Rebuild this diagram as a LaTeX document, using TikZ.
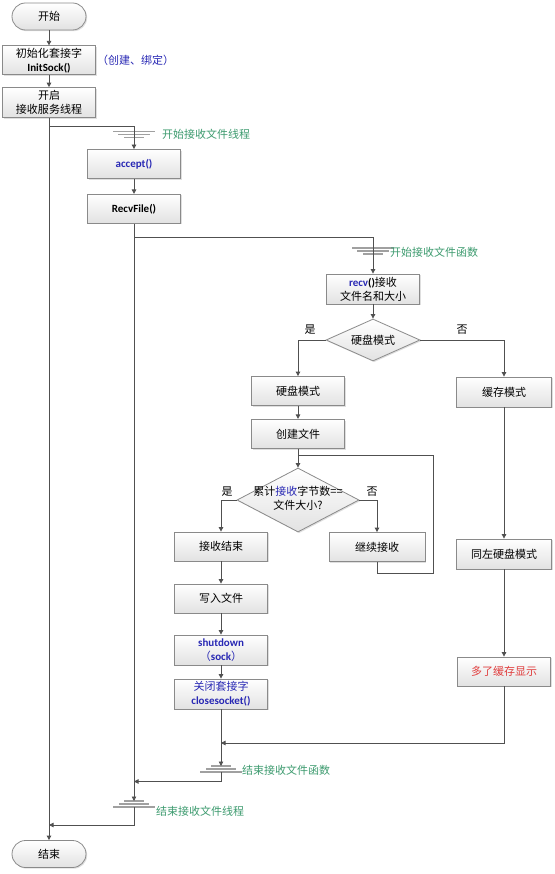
\documentclass[tikz,border=0pt]{standalone}
\usepackage{fontspec}
\setmainfont{Noto Sans CJK SC}
\newfontfamily\enfont{Carlito}
\usetikzlibrary{positioning, arrows.meta, shapes.geometric, shadows, calc}
\definecolor{cBoxF}{HTML}{E2E2E2}
\definecolor{cBoxB}{HTML}{8A8A8A}
\definecolor{cLine}{HTML}{505050}
\definecolor{cGnd}{HTML}{A0A0A0}
\definecolor{cNote}{HTML}{3C9A6E}
\definecolor{cApi}{HTML}{2828B4}
\definecolor{cWarn}{HTML}{E03C3C}
\tikzset{
  shade box/.style ={draw=cBoxB, line width=0.8pt, top color=white, bottom color=cBoxF,
                     drop shadow={shadow xshift=1.2pt, shadow yshift=-1.2pt, opacity=0.25}},
  procbox/.style   ={shade box, align=center, minimum width=93pt, minimum height=29pt,
                     inner sep=1pt},
  termbox/.style   ={procbox, rounded corners=13.5pt, minimum width=74pt, minimum height=27pt},
  decision/.style  ={shade box, diamond, inner sep=0pt},
  flow/.style      ={-{Triangle[length=4.5pt,width=4.5pt]}, line width=0.8pt, draw=cLine},
  link/.style      ={line width=0.8pt, draw=cLine},
  gline/.style     ={line width=1.5pt, draw=cGnd},
  note/.style      ={anchor=west, text=cNote, inner sep=0pt},
  gndin/.pic       ={\draw[gline] (-21,0) -- (21,0);
                     \draw[gline] (-16,3) -- (16,3);
                     \draw[gline] (-10,6) -- (10,6);},
  gndout/.pic      ={\draw[gline] (-10,0) -- (10,0);
                     \draw[gline] (-15,3) -- (15,3);
                     \draw[gline] (-21,6) -- (21,6);},
}
\newcommand{\api}[1]{{\enfont\bfseries #1}}

\begin{document}
\begin{tikzpicture}[x=1pt, y=-1pt, font=\fontsize{11}{14}\selectfont]
  \useasboundingbox (0,0) rectangle (554,874);

  % ============================================================
  % MAIN THREAD (left column)
  % ============================================================
  \node[termbox] (start) at (49,16.5) {开始};
  \node[procbox, below=15pt of start] (init) {初始化套接字\\\api{InitSock()}};
  \node[anchor=west, text=cApi, inner sep=1pt] (initnote) at (init.east) {（创建、绑定）};
  \node[procbox, minimum height=30pt, below=12pt of init] (srv) {开启\\接收服务线程};
  \node[termbox] (end) at (49,854) {结束};

  % ============================================================
  % RECEIVE THREAD
  % ============================================================
  \node[procbox] (accept) at (134,164) {\api{\color{cApi}accept()}};
  \node[procbox, below=15pt of accept] (recvfile) {\api{RecvFile()}};

  % ============================================================
  % RECEIVE FUNCTION
  % ============================================================
  \node[procbox, minimum height=30pt] (recv) at (373,289)
    {\api{\color{cApi}recv}\api{()}接收\\文件名和大小};
  \node[decision, minimum width=94pt, minimum height=42pt] (dmode) at (373,340)
    {\makebox[0pt]{硬盘模式}};
  \node (dmodeyes) at (310,330) {是};
  \node (dmodeno) at (462,330) {否};

  \node[procbox] (hdd) at (298,391) {硬盘模式};
  \node[procbox, below=13pt of hdd] (create) {创建文件};
  \node[procbox, minimum width=95pt, minimum height=30pt] (cache) at (504,392) {缓存模式};

  \node[decision, minimum width=122pt, minimum height=64pt] (dsize) at (298,500)
    {\makebox[0pt]{\begin{tabular}{@{}c@{}}累计{\color{cApi}接收}字节数==\\文件大小?\end{tabular}}};
  \node (dsizeyes) at (227,492) {是};
  \node (dsizeno) at (372,492) {否};

  \node[procbox] (acc) at (221,546.5) {接收结束};
  \node[procbox, minimum width=96pt] (cont) at (377,547) {继续接收};
  \node[procbox] (write) at (221,598.5) {写入文件};
  \node[procbox, minimum height=30pt, text=cApi] (shut) at (221,650) {\api{shutdown}\\（\api{sock}）};
  \node[procbox, minimum height=30pt, text=cApi] (close) at (221,694) {关闭套接字\\\api{closesocket()}};

  \node[procbox, minimum width=95pt, minimum height=30pt] (same) at (504,554) {同左硬盘模式};
  \node[procbox, text=cWarn] (more) at (504,671.5) {多了缓存显示};

  % --- start / end markers ---
  \coordinate (thrin) at (134,131.5);
  \pic at (thrin) {gndin};
  \node[note] (thrinlbl) at (162,134) {开始接收文件线程};
  \coordinate (fnin) at (373,248);
  \pic at (fnin) {gndin};
  \node[note] (fninlbl) at (390,252) {开始接收文件函数};
  \coordinate (fnout) at (221,766);
  \pic at (fnout) {gndout};
  \node[note] (fnoutlbl) at (242,770) {结束接收文件函数};
  \coordinate (throut) at (134,801);
  \pic at (throut) {gndout};
  \node[note] (throutlbl) at (156,811) {结束接收文件线程};

  % --- branch / merge points ---
  \coordinate (thrsplit) at (49,126);
  \coordinate (fnsplit) at (134,237.5);
  \coordinate (loopcorner) at (433,455);
  \coordinate (loopend) at (298,455);
  \coordinate (fnmerge) at (221,743);
  \coordinate (fnoutbot) at (221,772);
  \coordinate (thrmerge) at (134,781.5);
  \coordinate (throutbot) at (134,807);
  \coordinate (mainmerge) at (49,825);

  % --- connectors ---
  \draw[flow] (start) -- (init);
  \draw[flow] (init) -- (srv);
  \draw[flow] (srv) -- (end);
  \draw[flow] (thrsplit) -| (accept);
  \draw[flow] (accept) -- (recvfile);
  \draw[flow] (fnsplit) -| (recv);
  \draw[flow] (recv) -- (dmode);
  \draw[flow] (dmode) -| (hdd);
  \draw[flow] (dmode) -| (cache);
  \draw[flow] (hdd) -- (create);
  \draw[flow] (create) -- (dsize);
  \draw[flow] (dsize) -| (acc);
  \draw[flow] (dsize) -| (cont);
  \draw[link] (cont.south) -- ++(0,11) -| (loopcorner) -- (loopend);
  \draw[flow] (acc) -- (write);
  \draw[flow] (write) -- (shut);
  \draw[flow] (shut) -- (close);
  \draw[flow] (cache) -- (same);
  \draw[flow] (same) -- (more);
  \draw[flow] (more) |- (fnmerge);
  \draw[flow] (close) -- (fnout);
  \draw[flow] (fnoutbot) |- (thrmerge);
  \draw[flow] (recvfile) -- (throut);
  \draw[flow] (throutbot) |- (mainmerge);

\end{tikzpicture}
\end{document}
